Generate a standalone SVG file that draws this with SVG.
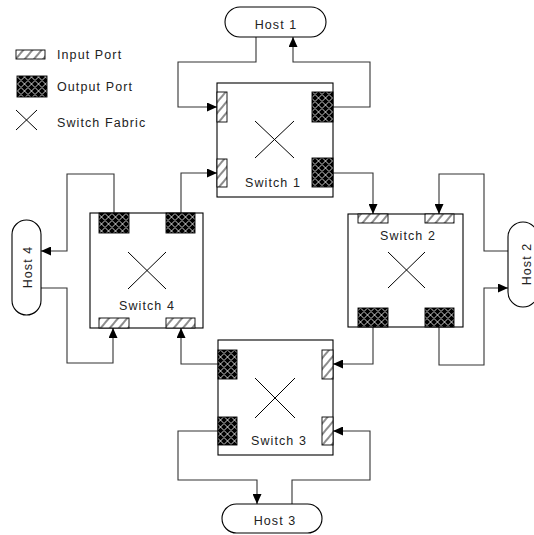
<svg xmlns="http://www.w3.org/2000/svg" width="534" height="535" viewBox="0 0 534 535">
<style>
text{font-family:"Liberation Sans",Arial,sans-serif;font-size:12.5px;letter-spacing:1.1px;fill:#222}
.box{fill:#fff;stroke:#000;stroke-width:1.1}
.host{fill:#fff;stroke:#000;stroke-width:1.1}
.in{fill:url(#inp);stroke:#000;stroke-width:0.9}
.out{fill:url(#outp);stroke:#000;stroke-width:0.9}
.fab{stroke:#000;stroke-width:1;fill:none}
.c{fill:none;stroke:#333;stroke-width:1.1}
.a{marker-end:url(#arr)}
</style>
<defs>
<pattern id="inp" width="7" height="7" patternUnits="userSpaceOnUse" patternTransform="rotate(40)">
<rect width="7" height="7" fill="#fff"/>
<line x1="1" y1="0" x2="1" y2="7" stroke="#000" stroke-width="0.9"/>
</pattern>
<pattern id="outp" width="7" height="7" patternUnits="userSpaceOnUse">
<rect width="7" height="7" fill="#000"/>
<path d="M0,3.5 L3.5,0 L7,3.5 L3.5,7 Z" fill="none" stroke="#fff" stroke-width="0.8"/>
</pattern>
<marker id="arr" markerUnits="userSpaceOnUse" markerWidth="11" markerHeight="9" refX="10" refY="4.5" orient="auto">
<path d="M0,0 L10,4.5 L0,9 Z" fill="#000"/>
</marker>
</defs>

<g id="legend">
<rect class="in" x="16" y="50" width="29" height="9"/>
<text x="57" y="59">Input Port</text>
<rect class="out" x="17" y="76" width="30" height="21"/>
<text x="57" y="91">Output Port</text>
<path class="fab" d="M16,110 L37,130 M37,110 L16,130"/>
<text x="57" y="127">Switch Fabric</text>
</g>

<g id="connectors">
<path class="c a" d="M256,37 V62 H178 V107 H217"/>
<path class="c a" d="M333,107 H370 V62 H293 V37"/>
<path class="c a" d="M333,173 H373 V214"/>
<path class="c a" d="M508,251 H484 V174 H439 V214"/>
<path class="c a" d="M439,327 V365 H484 V288 H508"/>
<path class="c a" d="M373,327 V364 H333"/>
<path class="c a" d="M292,504 V480 H370 V431 H333"/>
<path class="c a" d="M218,431 H178 V480 H257 V504"/>
<path class="c a" d="M218,364 H181 V328"/>
<path class="c a" d="M41,288 H67 V363 H113 V328"/>
<path class="c a" d="M114,213 V174 H67 V251 H41"/>
<path class="c a" d="M181,213 V173 H217"/>
</g>

<g id="host1">
<rect class="host" x="225" y="7" width="101" height="30" rx="15"/>
<text x="276" y="29" text-anchor="middle">Host 1</text>
</g>
<g id="host2">
<rect class="host" x="508" y="222" width="30" height="85" rx="15"/>
<text transform="translate(526,264) rotate(-90)" x="0" y="4.5" text-anchor="middle">Host 2</text>
</g>
<g id="host3">
<rect class="host" x="222" y="504" width="100" height="29" rx="14.5"/>
<text x="275" y="525" text-anchor="middle">Host 3</text>
</g>
<g id="host4">
<rect class="host" x="12" y="220" width="29" height="95" rx="14.5"/>
<text transform="translate(27,267) rotate(-90)" x="0" y="4.5" text-anchor="middle">Host 4</text>
</g>

<g id="switch1">
<rect class="box" x="217" y="83" width="116" height="114"/>
<rect class="in" x="217" y="92" width="10" height="30"/>
<rect class="in" x="217" y="159" width="10" height="28"/>
<rect class="out" x="312" y="92" width="21" height="30"/>
<rect class="out" x="312" y="158" width="21" height="29"/>
<path class="fab" d="M255,121 L294,158 M294,121 L255,158"/>
<text x="273" y="187" text-anchor="middle">Switch 1</text>
</g>
<g id="switch2">
<rect class="box" x="348" y="214" width="115" height="113"/>
<rect class="in" x="358" y="214" width="30" height="9"/>
<rect class="in" x="425" y="214" width="29" height="9"/>
<rect class="out" x="358" y="308" width="30" height="19"/>
<rect class="out" x="425" y="308" width="29" height="19"/>
<path class="fab" d="M388,252 L425,288 M425,252 L388,288"/>
<text x="408" y="240" text-anchor="middle">Switch 2</text>
</g>
<g id="switch3">
<rect class="box" x="218" y="340" width="115" height="115"/>
<rect class="out" x="218" y="350" width="19" height="29"/>
<rect class="out" x="218" y="417" width="19" height="28"/>
<rect class="in" x="322" y="350" width="11" height="29"/>
<rect class="in" x="322" y="417" width="11" height="28"/>
<path class="fab" d="M255,378 L295,418 M295,378 L255,418"/>
<text x="279" y="445" text-anchor="middle">Switch 3</text>
</g>
<g id="switch4">
<rect class="box" x="90" y="213" width="113" height="115"/>
<rect class="out" x="99" y="213" width="30" height="20"/>
<rect class="out" x="166" y="213" width="29" height="20"/>
<rect class="in" x="99" y="318" width="30" height="10"/>
<rect class="in" x="166" y="318" width="29" height="10"/>
<path class="fab" d="M128,252 L166,289 M166,252 L128,289"/>
<text x="147" y="310" text-anchor="middle">Switch 4</text>
</g>
</svg>
